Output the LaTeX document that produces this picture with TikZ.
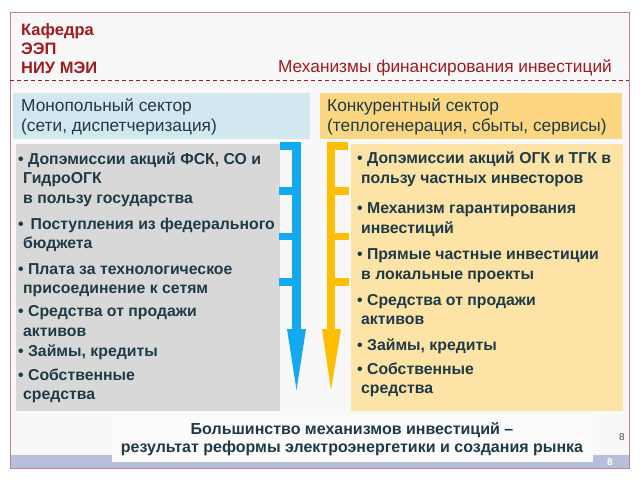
\documentclass[tikz,border=0pt]{standalone}
\usepackage{fontspec}
\setmainfont{Liberation Sans}
\definecolor{framec}{HTML}{C8818A}
\definecolor{redt}{HTML}{9E1B20}
\definecolor{txt}{HTML}{1F3A47}
\definecolor{bluehead}{HTML}{D2E7EF}
\definecolor{yelhead}{HTML}{FCD680}
\definecolor{yelbody}{HTML}{FDE3A6}
\definecolor{graybody}{HTML}{D8D8D8}
\definecolor{bluearr}{HTML}{12A9EE}
\definecolor{yelarr}{HTML}{FFBF00}
\definecolor{barc}{HTML}{B7BEDB}
\definecolor{bgc}{HTML}{F8F8F8}
\tikzset{
  bodytext/.style={font=\fontsize{15.8}{19.5}\selectfont\bfseries, text=txt, anchor=west, align=left, inner sep=0pt},
  headtext/.style={font=\fontsize{17.3}{19.5}\selectfont, text=txt, anchor=west, align=left, inner sep=0pt},
  redtext/.style={font=\fontsize{16.5}{19}\selectfont\bfseries, text=redt, align=left, inner sep=0pt},
}
\begin{document}
\begin{tikzpicture}[x=1pt,y=-1pt]
\useasboundingbox (0,0) rectangle (640,480);
\fill[white] (0,0) rectangle (640,480);
% frame
\draw[framec, fill=bgc, line width=1pt] (10,12) rectangle (629,468);
\draw[redt, dashed, dash pattern=on 4pt off 3pt, line width=1pt] (10,80) -- (629,80);
% title
\node[redtext, anchor=west] (dept) at (21,49) {Кафедра\\ЭЭП\\НИУ МЭИ};
\node[redtext, font=\fontsize{17.3}{19}\selectfont, anchor=east] (title) at (612,68) {Механизмы финансирования инвестиций};
% headers
\fill[bluehead] (13,93) rectangle (310,139);
\fill[yelhead] (320,93) rectangle (622,139);
\node[headtext] (hmono) at (21,117) {Монопольный сектор\\(сети, диспетчеризация)};
\node[headtext] (hcomp) at (327,117) {Конкурентный сектор\\(теплогенерация, сбыты, сервисы)};
% bodies
\fill[graybody] (16,144) rectangle (280,411);
\fill[yelbody] (351,144) rectangle (623,411);
% blue bracket and arrow
\fill[bluearr] (280,142) rectangle (301,150);
\fill[bluearr] (292,142) rectangle (301,330);
\fill[bluearr] (279,187) rectangle (292,195);
\fill[bluearr] (279,233) rectangle (292,240);
\fill[bluearr] (279,278) rectangle (292,286);
\fill[bluearr] (287,329) -- (306,329) -- (296.5,390) -- cycle;
% yellow bracket and arrow
\fill[yelarr] (327,142) rectangle (348,150);
\fill[yelarr] (327,142) rectangle (335,330);
\fill[yelarr] (335,187) rectangle (349,195);
\fill[yelarr] (335,233) rectangle (349,240);
\fill[yelarr] (335,278) rectangle (349,286);
\fill[yelarr] (322,329) -- (341,329) -- (331,390) -- cycle;
% left items
\node[bodytext] (l1) at (18,179.5) {• Допэмиссии акций ФСК, СО и\\\hspace{5pt}ГидроОГК\\\hspace{5pt}в пользу государства};
\node[bodytext] (l2) at (18,235) {• \,Поступления из федерального\\\hspace{5pt}бюджета};
\node[bodytext] (l3) at (18,280) {• Плата за технологическое\\\hspace{5pt}присоединение к сетям};
\node[bodytext] (l4) at (18,321) {• Средства от продажи\\\hspace{5pt}активов};
\node[bodytext] (l5) at (18,352) {• Займы, кредиты};
\node[bodytext] (l6) at (18,386) {• Собственные\\\hspace{5pt}средства};
% right items
\node[bodytext] (r1) at (357,169.5) {• Допэмиссии акций ОГК и ТГК в\\\hspace{4pt}пользу частных инвесторов};
\node[bodytext] (r2) at (357,219.5) {• Механизм гарантирования\\\hspace{4pt}инвестиций};
\node[bodytext] (r3) at (357,265.5) {• Прямые частные инвестиции\\\hspace{4pt}в локальные проекты};
\node[bodytext] (r4) at (357,309.5) {• Средства от продажи\\\hspace{4pt}активов};
\node[bodytext] (r5) at (357,346) {• Займы, кредиты};
\node[bodytext] (r6) at (357,380) {• Собственные\\\hspace{4pt}средства};
% bottom
\fill[barc] (10.5,455) rectangle (628.5,467.5);
\fill[bgc!60!white] (112,415) rectangle (593,462);
\node[bodytext, anchor=center, align=center, font=\fontsize{16}{18}\selectfont\bfseries] (concl) at (352,439) {Большинство механизмов инвестиций –\\результат реформы электроэнергетики и создания рынка};
\node[font=\fontsize{10}{12}\selectfont\bfseries, text=white, inner sep=0pt] (pg1) at (610,462) {8};
\node[font=\fontsize{10}{12}\selectfont, text=black!70, inner sep=0pt] (pg2) at (622,437) {8};
\end{tikzpicture}
\end{document}
